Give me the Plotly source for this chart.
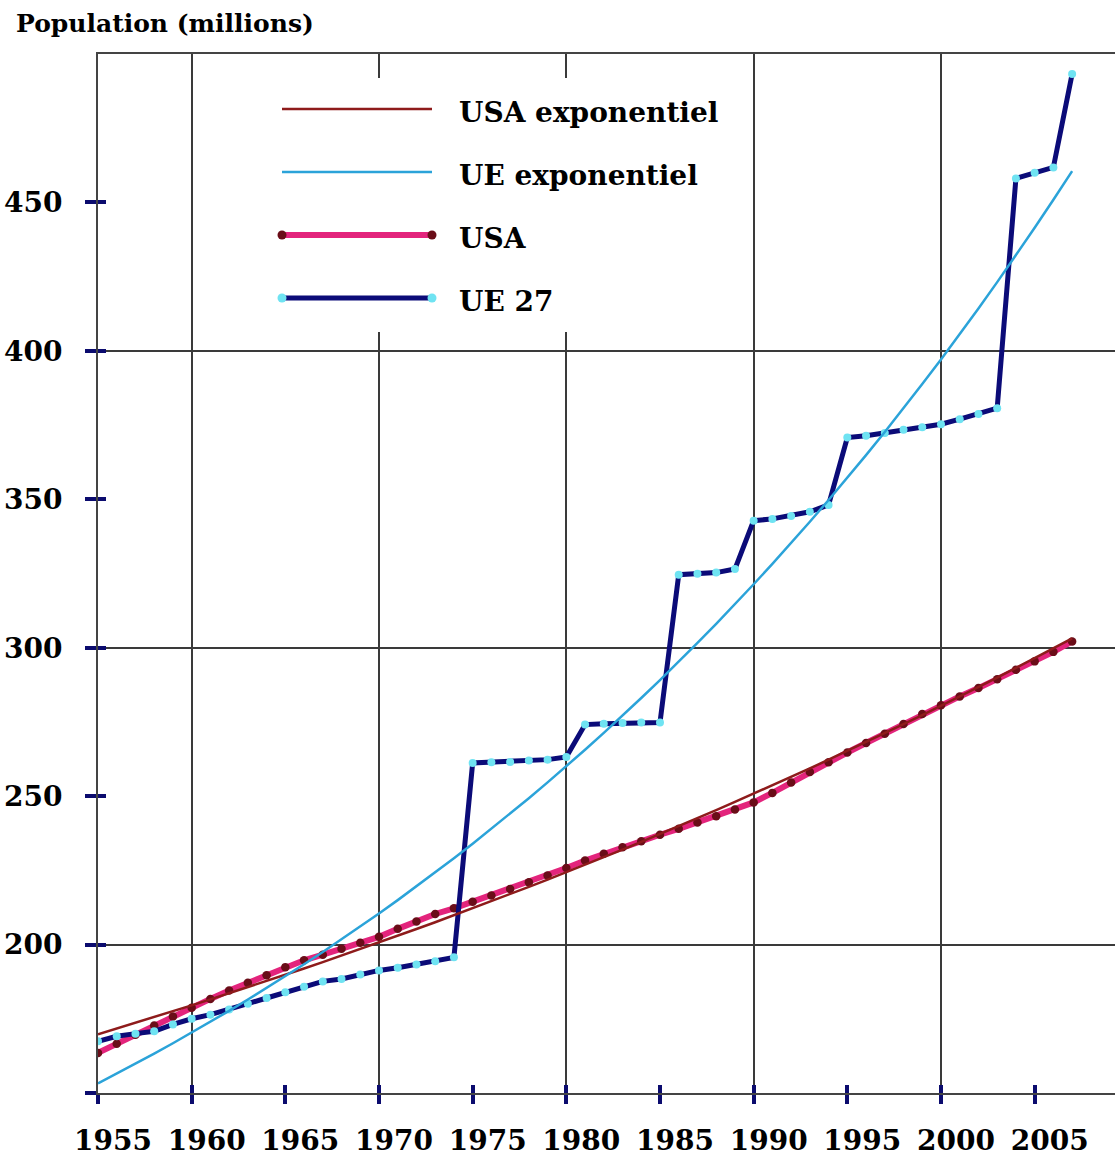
import numpy as np
import plotly.graph_objects as go

# ---------------- data ----------------
years = list(range(1955, 2008))

usa = [163.5, 166.6, 169.6, 172.7, 175.8, 178.7, 181.7, 184.5, 187.1, 189.7,
       192.4, 194.7, 196.6, 198.6, 200.6, 202.6, 205.3, 207.8, 210.3, 212.2,
       214.4, 216.5, 218.7, 221.0, 223.3, 225.8, 228.3, 230.6, 232.8, 234.8,
       237.0, 239.0, 241.1, 243.2, 245.5, 247.9, 251.1, 254.6, 258.1, 261.4,
       264.7, 267.9, 271.0, 274.3, 277.7, 280.6, 283.6, 286.4, 289.4, 292.6,
       295.4, 298.6, 302.1]

ue27 = [167.4, 169.1, 170.0, 170.8, 173.1, 175.0, 176.4, 178.1, 180.1, 182.0,
        183.9, 185.8, 187.6, 188.4, 189.9, 191.3, 192.2, 193.3, 194.4, 195.7,
        261.2, 261.4, 261.5, 262.0, 262.3, 263.2, 274.1, 274.4, 274.6, 274.8,
        274.8, 324.6, 324.9, 325.3, 326.5, 342.8, 343.4, 344.4, 345.8, 348.1,
        370.8, 371.4, 372.3, 373.4, 374.3, 375.3, 377.0, 378.7, 380.7, 458.1,
        460.0, 461.8, 493.3]

x_tick_years = list(range(1955, 2006, 5))
x_grid_years = list(range(1960, 2001, 10))
x_minor_years = list(range(1965, 2006, 10))
y_tick_vals = list(range(150, 451, 50))
y_tick_text = [""] + [str(v) for v in y_tick_vals[1:]]
y_grid_vals = [200, 300, 400]
y_minor_vals = [150, 250, 350, 450]

legend_names = ["USA exponentiel", "UE exponentiel", "USA", "UE 27"]


# exponential trend lines (least squares on log values, like a spreadsheet trendline)
def exp_trend(xs, ys):
    xs = np.asarray(xs, float)
    b, a = np.polyfit(xs - xs[0], np.log(np.asarray(ys, float)), 1)
    return np.exp(a + b * (xs - xs[0]))


usa_exp = exp_trend(years, usa)
ue_exp = exp_trend(years, ue27)

# ---------------- styles ----------------
W, H = 1115, 1157
ML, MR, MT, MB = 98, 0, 54, 64
PW, PH = W - ML - MR, H - MT - MB
PX_PER_YEAR = 18.733
X_RANGE = [1955, 1955 + PW / PX_PER_YEAR]
Y_RANGE = [150, 500]

C_USA_EXP = "#8e1b1b"
C_UE_EXP = "#2ba3d9"
C_USA = "#e3247c"
C_USA_MK = "#6a0d18"
C_UE = "#0b0b78"
C_UE_MK = "#6fe3f2"
C_TICK = "#0b0b6e"
C_GRID = "#3a3a3a"
FONT = "DejaVu Serif"

fig = go.Figure()

fig.add_trace(go.Scatter(
    x=years, y=usa, name="USA", mode="lines+markers",
    line=dict(color=C_USA, width=6),
    marker=dict(color=C_USA_MK, size=8.5), showlegend=False))
fig.add_trace(go.Scatter(
    x=years, y=ue27, name="UE 27", mode="lines+markers",
    line=dict(color=C_UE, width=5),
    marker=dict(color=C_UE_MK, size=8), showlegend=False))
fig.add_trace(go.Scatter(
    x=years, y=usa_exp, name="USA exponentiel", mode="lines",
    line=dict(color=C_USA_EXP, width=2.5), showlegend=False))
fig.add_trace(go.Scatter(
    x=years, y=ue_exp, name="UE exponentiel", mode="lines",
    line=dict(color=C_UE_EXP, width=2.5), showlegend=False))
# empty trace that carries the overlay axes (grid + inner tick halves)
fig.add_trace(go.Scatter(x=[None], y=[None], xaxis="x2", yaxis="y2",
                         showlegend=False, hoverinfo="skip"))

tickfont = dict(family=FONT, size=28, color="black", weight="bold")

fig.update_layout(
    width=W, height=H,
    margin=dict(l=ML, r=MR, t=MT, b=MB, pad=0, autoexpand=False),
    paper_bgcolor="white", plot_bgcolor="white",
    showlegend=False,
    xaxis=dict(
        range=X_RANGE, tickmode="array", tickvals=x_tick_years,
        ticks="outside", ticklen=9, tickwidth=4, tickcolor=C_TICK,
        tickfont=tickfont, ticklabelstandoff=12, ticklabelshift=15,
        showline=True, linecolor="#444444", linewidth=2, mirror=True,
        showgrid=False, zeroline=False, automargin=False),
    yaxis=dict(
        range=Y_RANGE, tickmode="array", tickvals=y_tick_vals,
        ticktext=y_tick_text,
        ticks="outside", ticklen=11, tickwidth=4, tickcolor=C_TICK,
        tickfont=tickfont, ticklabelstandoff=17,
        showline=True, linecolor="#444444", linewidth=2, mirror=False,
        showgrid=False, zeroline=False, automargin=False),
    xaxis2=dict(
        overlaying="x", anchor="y", side="bottom", range=X_RANGE,
        tickmode="array", tickvals=x_grid_years,
        ticks="inside", ticklen=8, tickwidth=4, tickcolor=C_TICK,
        showticklabels=False, showgrid=True, gridcolor=C_GRID, gridwidth=1.5,
        showline=False, zeroline=False, automargin=False,
        minor=dict(tickmode="array", tickvals=x_minor_years, ticks="inside",
                   ticklen=8, tickwidth=4, tickcolor=C_TICK, showgrid=False)),
    yaxis2=dict(
        overlaying="y", anchor="x", side="left", range=Y_RANGE,
        tickmode="array", tickvals=y_grid_vals,
        ticks="inside", ticklen=8, tickwidth=4, tickcolor=C_TICK,
        showticklabels=False, showgrid=True, gridcolor=C_GRID, gridwidth=1.5,
        showline=False, zeroline=False, automargin=False,
        minor=dict(tickmode="array", tickvals=y_minor_vals, ticks="inside",
                   ticklen=8, tickwidth=4, tickcolor=C_TICK, showgrid=False)),
)


# ---------------- custom legend (long swatches, like the original) ----------------
def px_x(px):
    return (px - ML) / PW


def px_y(py):
    return (MT + PH - py) / PH


shapes = [dict(type="rect", xref="paper", yref="paper",
               x0=px_x(270), x1=px_x(742), y0=px_y(332), y1=px_y(78),
               fillcolor="white", line=dict(width=0), layer="above")]
annotations = []
legend_styles = [
    dict(color=C_USA_EXP, width=2.5, marker=None),
    dict(color=C_UE_EXP, width=2.5, marker=None),
    dict(color=C_USA, width=6, marker=C_USA_MK),
    dict(color=C_UE, width=5, marker=C_UE_MK),
]
row_y = [109, 172, 235, 298]
for name, st, ry in zip(legend_names, legend_styles, row_y):
    shapes.append(dict(type="line", xref="paper", yref="paper",
                       x0=px_x(282), x1=px_x(432), y0=px_y(ry), y1=px_y(ry),
                       line=dict(color=st["color"], width=st["width"]),
                       layer="above"))
    if st["marker"]:
        for ex in (282, 432):
            shapes.append(dict(type="circle", xref="paper", yref="paper",
                               xsizemode="pixel", ysizemode="pixel",
                               xanchor=px_x(ex), yanchor=px_y(ry),
                               x0=-4.5, x1=4.5, y0=-4.5, y1=4.5,
                               fillcolor=st["marker"],
                               line=dict(width=0), layer="above"))
    annotations.append(dict(text=name, xref="paper", yref="paper",
                            x=px_x(457), y=px_y(ry + 3),
                            xanchor="left", yanchor="middle", showarrow=False,
                            font=dict(family=FONT, size=28, color="black",
                                      weight="bold")))

annotations.append(dict(text="Population (millions)", xref="paper", yref="paper",
                        x=px_x(14), y=px_y(23), xanchor="left", yanchor="middle",
                        showarrow=False,
                        font=dict(family=FONT, size=25, color="black",
                                  weight="bold")))

fig.update_layout(shapes=shapes, annotations=annotations)

fig.write_html("out.html",
               config={"displayModeBar": False},
               post_script="document.body.style.margin='0';"
                           "document.body.style.overflow='hidden';")
